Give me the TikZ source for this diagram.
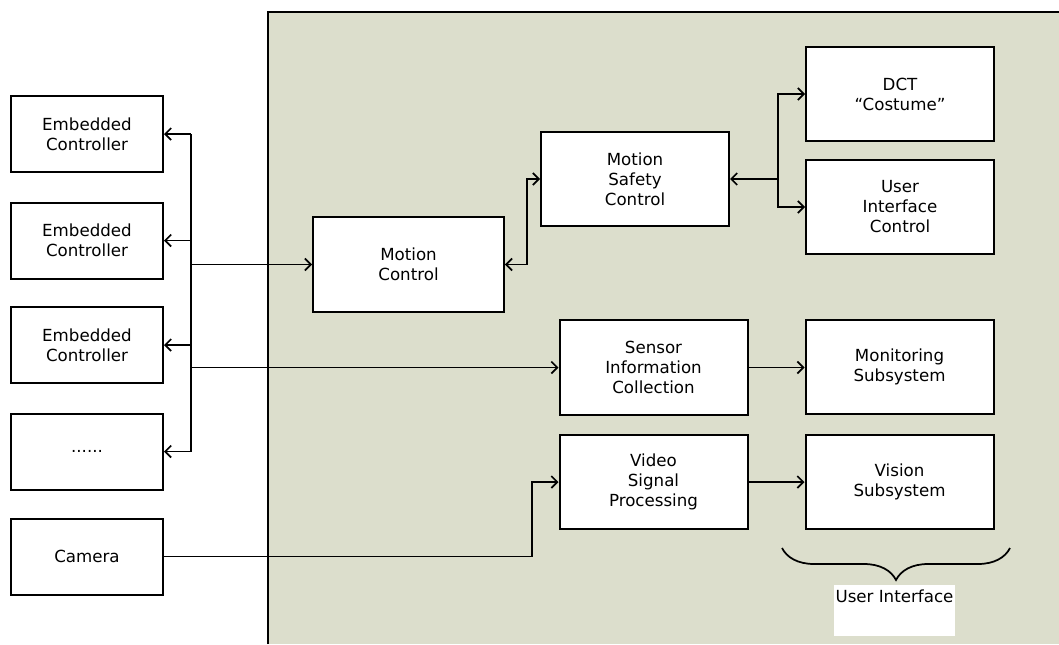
\documentclass[tikz,border=0pt]{standalone}
\usepackage{fontspec}
\usetikzlibrary{positioning,arrows.meta,decorations.pathreplacing}
\newfontfamily\diafont{DejaVu Sans}
\definecolor{panelgreen}{RGB}{220,222,204}
\tikzset{
  fig/.style={font=\diafont\fontsize{12.5}{15}\selectfont},
  box/.style={draw,line width=1.5pt,fill=white,align=center,inner sep=2pt,
              minimum width=141pt,minimum height=71pt},
  srcbox/.style={box,minimum width=114pt,minimum height=57pt},
  ln/.style={-{Straight Barb[length=4.5pt,width=9pt]},line width=1.3pt},
  lnb/.style={{Straight Barb[length=4.5pt,width=9pt]}-{Straight Barb[length=4.5pt,width=9pt]},
              line width=1.3pt},
}

\begin{document}
\begin{tikzpicture}[fig,x=0.75pt,y=-0.75pt,
  uibrace/.style={decorate,decoration={brace,mirror,amplitude=24pt},line width=1.3pt},
  uilabel/.style={fill=white,anchor=north,minimum width=91pt,inner sep=0pt,
                  text height=12.75pt,text depth=25.5pt}]
\useasboundingbox (0,0) rectangle (1059,644);

% ------------------------------------------------ the system panel
\fill[panelgreen] (268,12) rectangle (1059,644);
\draw[line width=1.5pt] (268,644) |- (1059,12);

% ------------------------------------------------ 1: the field devices
\foreach \nm/\t/\y in {ec1/{Embedded\\Controller}/134, ec2/{Embedded\\Controller}/240.5,
  ec3/{Embedded\\Controller}/345, ecx/{......}/451.5, cam/Camera/556.5}
  {\node[srcbox] (\nm) at (87,\y) {\t};}

% ------------------------------------------------ 2: the processing blocks
\node[box,minimum width=143pt] (mc) at (408.5,264.5) {Motion\\Control};
\node[box] (msc) at (635,179) {Motion\\Safety\\Control};
\node[box] (sic) at (653.5,367.5) {Sensor\\Information\\Collection};
\node[box] (vsp) at (653.5,482) {Video\\Signal\\Processing};

% ------------------------------------------------ 3: the user side
\node[box] (dct) at (900,94) {DCT\\“Costume”};
\node[box] (uic) at (900,207) {User\\Interface\\Control};
\node[box] (mon) at (899.5,367) {Monitoring\\Subsystem};
\node[box] (vis) at (899.5,482) {Vision\\Subsystem};

% bus shared by the controllers
\coordinate (bt) at (191,134);
\coordinate (bb) at (191,451.5);
\draw[line width=1.3pt] (bt) -- (bb);
\foreach \nm in {ec1,ec2,ec3,ecx}
  {\draw[ln] (\nm.east -| bt) -- (\nm.east);}
\draw[ln] (mc.west -| bt) -- (mc.west);
\draw[ln] (sic.west -| bt) -- (sic.west);

\draw[lnb] (mc.east) -- ++(22,0) |- (msc.west);
\draw[lnb] (msc.east) -- ++(48,0) coordinate (sj) |- (dct.west);
\draw[ln] (sj) |- (uic.west);
\draw[ln] (sic.east) -- (sic.east -| mon.west);
\draw[ln] (vsp.east) -- (vsp.east -| vis.west);

\coordinate (cj) at (532,556.5);
\draw[ln] (cam.east) -- (cj) |- (vsp.west);

% brace over the user interface pair
\coordinate (uil) at (782,548);
\coordinate (uir) at (1010,548);
\draw[uibrace] (uil) -- (uir);
\node[uilabel] (uilbl) at (894.5,585) {User Interface};

\end{tikzpicture}
\end{document}
